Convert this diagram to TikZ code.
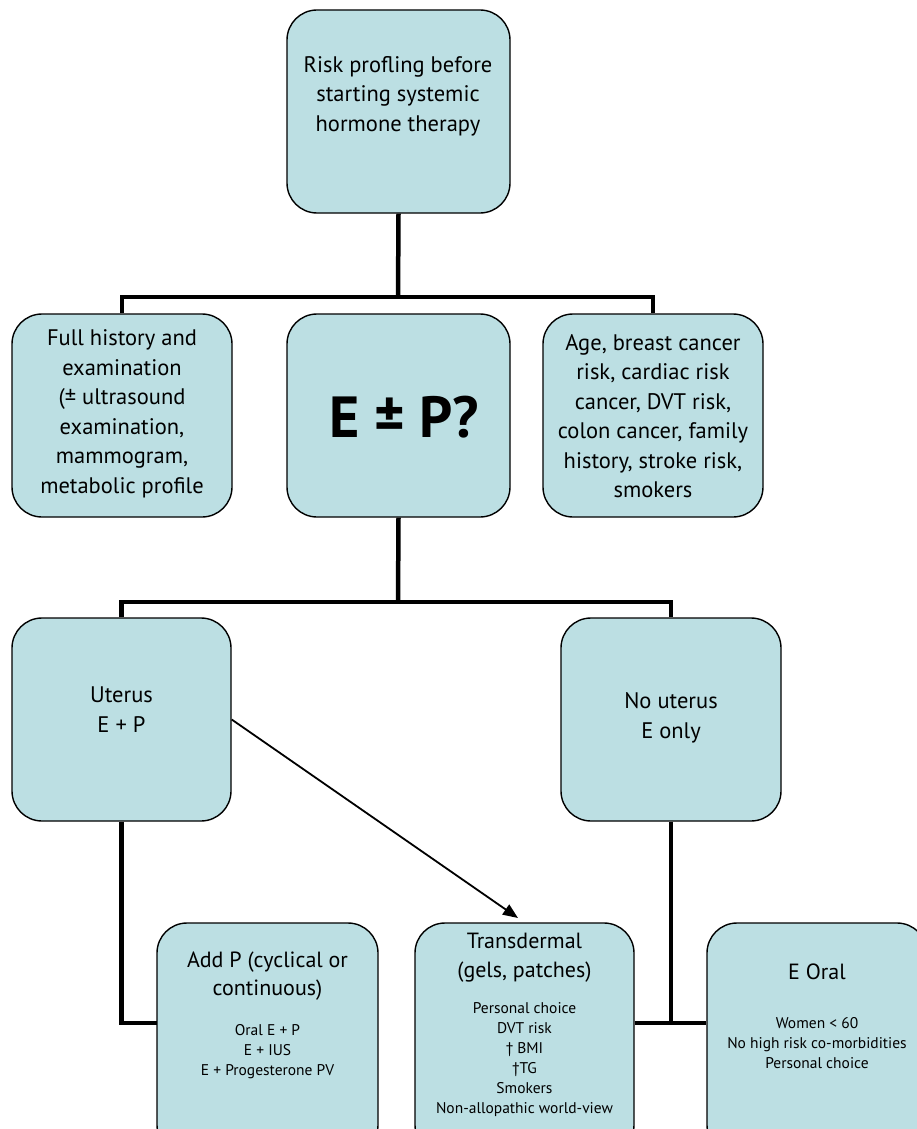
\documentclass[tikz,border=0pt]{standalone}
\usepackage{fontspec}
\setmainfont{PT Sans}
\usetikzlibrary{arrows.meta,calc}
\definecolor{boxblue}{RGB}{188,223,227}
\begin{document}
\begin{tikzpicture}[x=1pt,y=-1pt,
  box/.style={draw=black, line width=1.4pt, fill=boxblue, rounded corners=30pt, inner sep=0pt, minimum width=220pt, minimum height=203pt},
  tall/.style={box, minimum height=232pt},
  txt/.style={align=center, inner sep=0pt, font=\fontsize{22.5}{29.5}\selectfont},
  head/.style={align=center, inner sep=0pt, font=\fontsize{22}{28.5}\selectfont},
  small/.style={align=center, inner sep=0pt, font=\fontsize{15.5}{20}\selectfont},
  conn/.style={draw=black, line width=4.5pt},
  arr/.style={draw=black, line width=1.8pt, -{Triangle[length=15pt,width=12pt]}}]
\useasboundingbox (0,0) rectangle (917,1129);
\clip (0,0) rectangle (917,1129);
\fill[white] (0,0) rectangle (917,1129);

% coordinates for junctions
\coordinate (bus1) at (398,297);
\coordinate (bus2) at (398,602);
\coordinate (ja) at (157,1023);
\coordinate (jb) at (671,1023);
\coordinate (tip) at (518,918);

% boxes
\node[box, minimum width=223pt] (top) at (398.5,111.5) {};
\node[box] (l2) at (122,415.5) {};
\node[box, minimum width=223pt] (m2) at (398.5,415.5) {};
\node[box] (r2) at (653,415.5) {};
\node[box, minimum width=219pt] (ut) at (121.5,719.5) {};
\node[box] (nu) at (671,719.5) {};
\node[tall, minimum width=221pt] (addp) at (267.5,1039) {};
\node[tall, minimum width=219pt] (tr) at (524.5,1039) {};
\node[tall] (eo) at (817,1039) {};

% connectors
\draw[conn] (top.south) -- (bus1);
\draw[conn] (l2.north) |- (bus1) -| (r2.north);
\draw[conn] (m2.south) -- (bus2);
\draw[conn] (ut.north) |- (bus2) -| (nu.north);
\draw[conn] (ut.south) |- (ja);
\draw[conn] (nu.south) -- (jb);
\draw[conn] (tr.east |- jb) -- (eo.west |- jb);
\draw[arr] (ut.east) -- (tip);

% texts
\node[txt] (ttop) at (398,96) {Risk profling before\\starting systemic\\hormone therapy};
\node[txt] (tl2) at (122,414) {Full history and\\examination\\(± ultrasound\\examination,\\mammogram,\\metabolic profile};
\node[inner sep=0pt, font=\fontsize{58}{60}\selectfont\bfseries] (tm2) at (404,417) {E ± P?};
\node[txt] (tr2) at (653,416) {Age, breast cancer\\risk, cardiac risk\\cancer, DVT risk,\\colon cancer, family\\history, stroke risk,\\smokers};
\node[head, font=\fontsize{22.5}{30}\selectfont] (tut) at (121.5,710) {Uterus\\E + P};
\node[head, font=\fontsize{22.5}{30}\selectfont] (tnu) at (671,718) {No uterus\\E only};
\node[head] (taddp) at (267.5,976) {Add P (cyclical or\\continuous)};
\node[small] (saddp) at (267.5,1052) {Oral E + P\\E + IUS\\E + Progesterone PV};
\node[head] (ttr) at (524.5,957.5) {Transdermal\\(gels, patches)};
\node[small] (str) at (524.5,1060) {Personal choice\\DVT risk\\† BMI\\†TG\\Smokers\\Non-allopathic world-view};
\node[head] (teo) at (817,972) {E Oral};
\node[small] (seo) at (817,1043) {Women < 60\\No high risk co-morbidities\\Personal choice};
\end{tikzpicture}
\end{document}
